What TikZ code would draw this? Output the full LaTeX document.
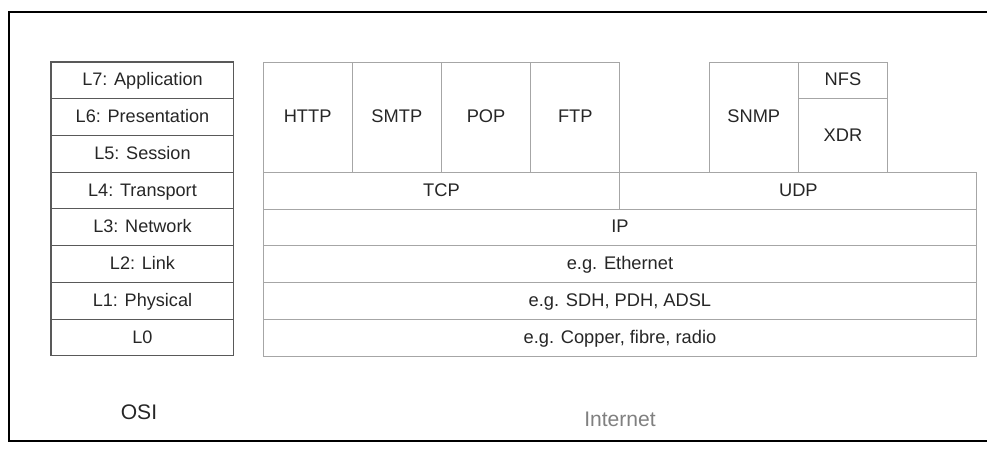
\documentclass[tikz,border=0pt]{standalone}
\usepackage{fontspec}
\setmainfont{Liberation Sans}
\usetikzlibrary{positioning}

\begin{document}
\begin{tikzpicture}[x=0.02cm, y=-0.02cm, node distance=0pt,
        osi/.style={rectangle, draw=black!65, line width=0.6pt, outer sep=0pt, inner sep=0pt, minimum width=3.66cm, minimum height=0.735cm, text height=1.6ex, text depth=0.4ex, text=black!85, font=\fontsize{10.3}{12}\selectfont},
        app/.style={rectangle, draw=black!35, line width=0.5pt, outer sep=0pt, inner sep=0pt, minimum width=1.785cm, minimum height=2.205cm, text height=1.6ex, text depth=0.4ex, text=black!85, font=\fontsize{10.4}{12}\selectfont},
        proto/.style={app, minimum width=7.14cm, minimum height=0.735cm},
        wide/.style={app, minimum width=14.28cm, minimum height=0.735cm}]

        \useasboundingbox (0,0) rectangle (987,449);
        \draw[line width=1.7pt] (990,12) -- (9,12) -- (9,441) -- (990,441);

        % OSI stack
        \node[osi, anchor=north west] (l7) at (51,62) {L7: Application};
        \node[osi, below=of l7] (l6) {L6: Presentation};
        \node[osi, below=of l6] (l5) {L5: Session};
        \node[osi, below=of l5] (l4) {L4: Transport};
        \node[osi, below=of l4] (l3) {L3: Network};
        \node[osi, below=of l3] (l2) {L2: Link};
        \node[osi, below=of l2] (l1) {L1: Physical};
        \node[osi, below=of l1] (l0) {L0};

        % Internet stack
        \node[app, anchor=north west] (http) at (263,62) {HTTP};
        \node[app, right=of http] (smtp) {SMTP};
        \node[app, right=of smtp] (pop) {POP};
        \node[app, right=of pop] (ftp) {FTP};
        \node[app, right=1.785cm of ftp] (snmp) {SNMP};
        \node[app, minimum height=0.735cm, anchor=north west] (nfs) at (snmp.north east) {NFS};
        \node[app, minimum height=1.47cm, below=of nfs] (xdr) {XDR};

        \node[proto, anchor=north west] (tcp) at (http.south west) {TCP};
        \node[proto, right=of tcp] (udp) {UDP};
        \node[wide, anchor=north west] (ip) at (tcp.south west) {IP};
        \node[wide, below=of ip] (eth) {e.g. Ethernet};
        \node[wide, below=of eth] (sdh) {e.g. SDH, PDH, ADSL};
        \node[wide, below=of sdh] (phy) {e.g. Copper, fibre, radio};

        \node[text=black!85, font=\fontsize{12}{14}\selectfont] (osilabel) at (139,412) {OSI};
        \node[text=black!50, font=\fontsize{12}{14}\selectfont] (inetlabel) at (620,419) {Internet};
    \end{tikzpicture}
\end{document}
